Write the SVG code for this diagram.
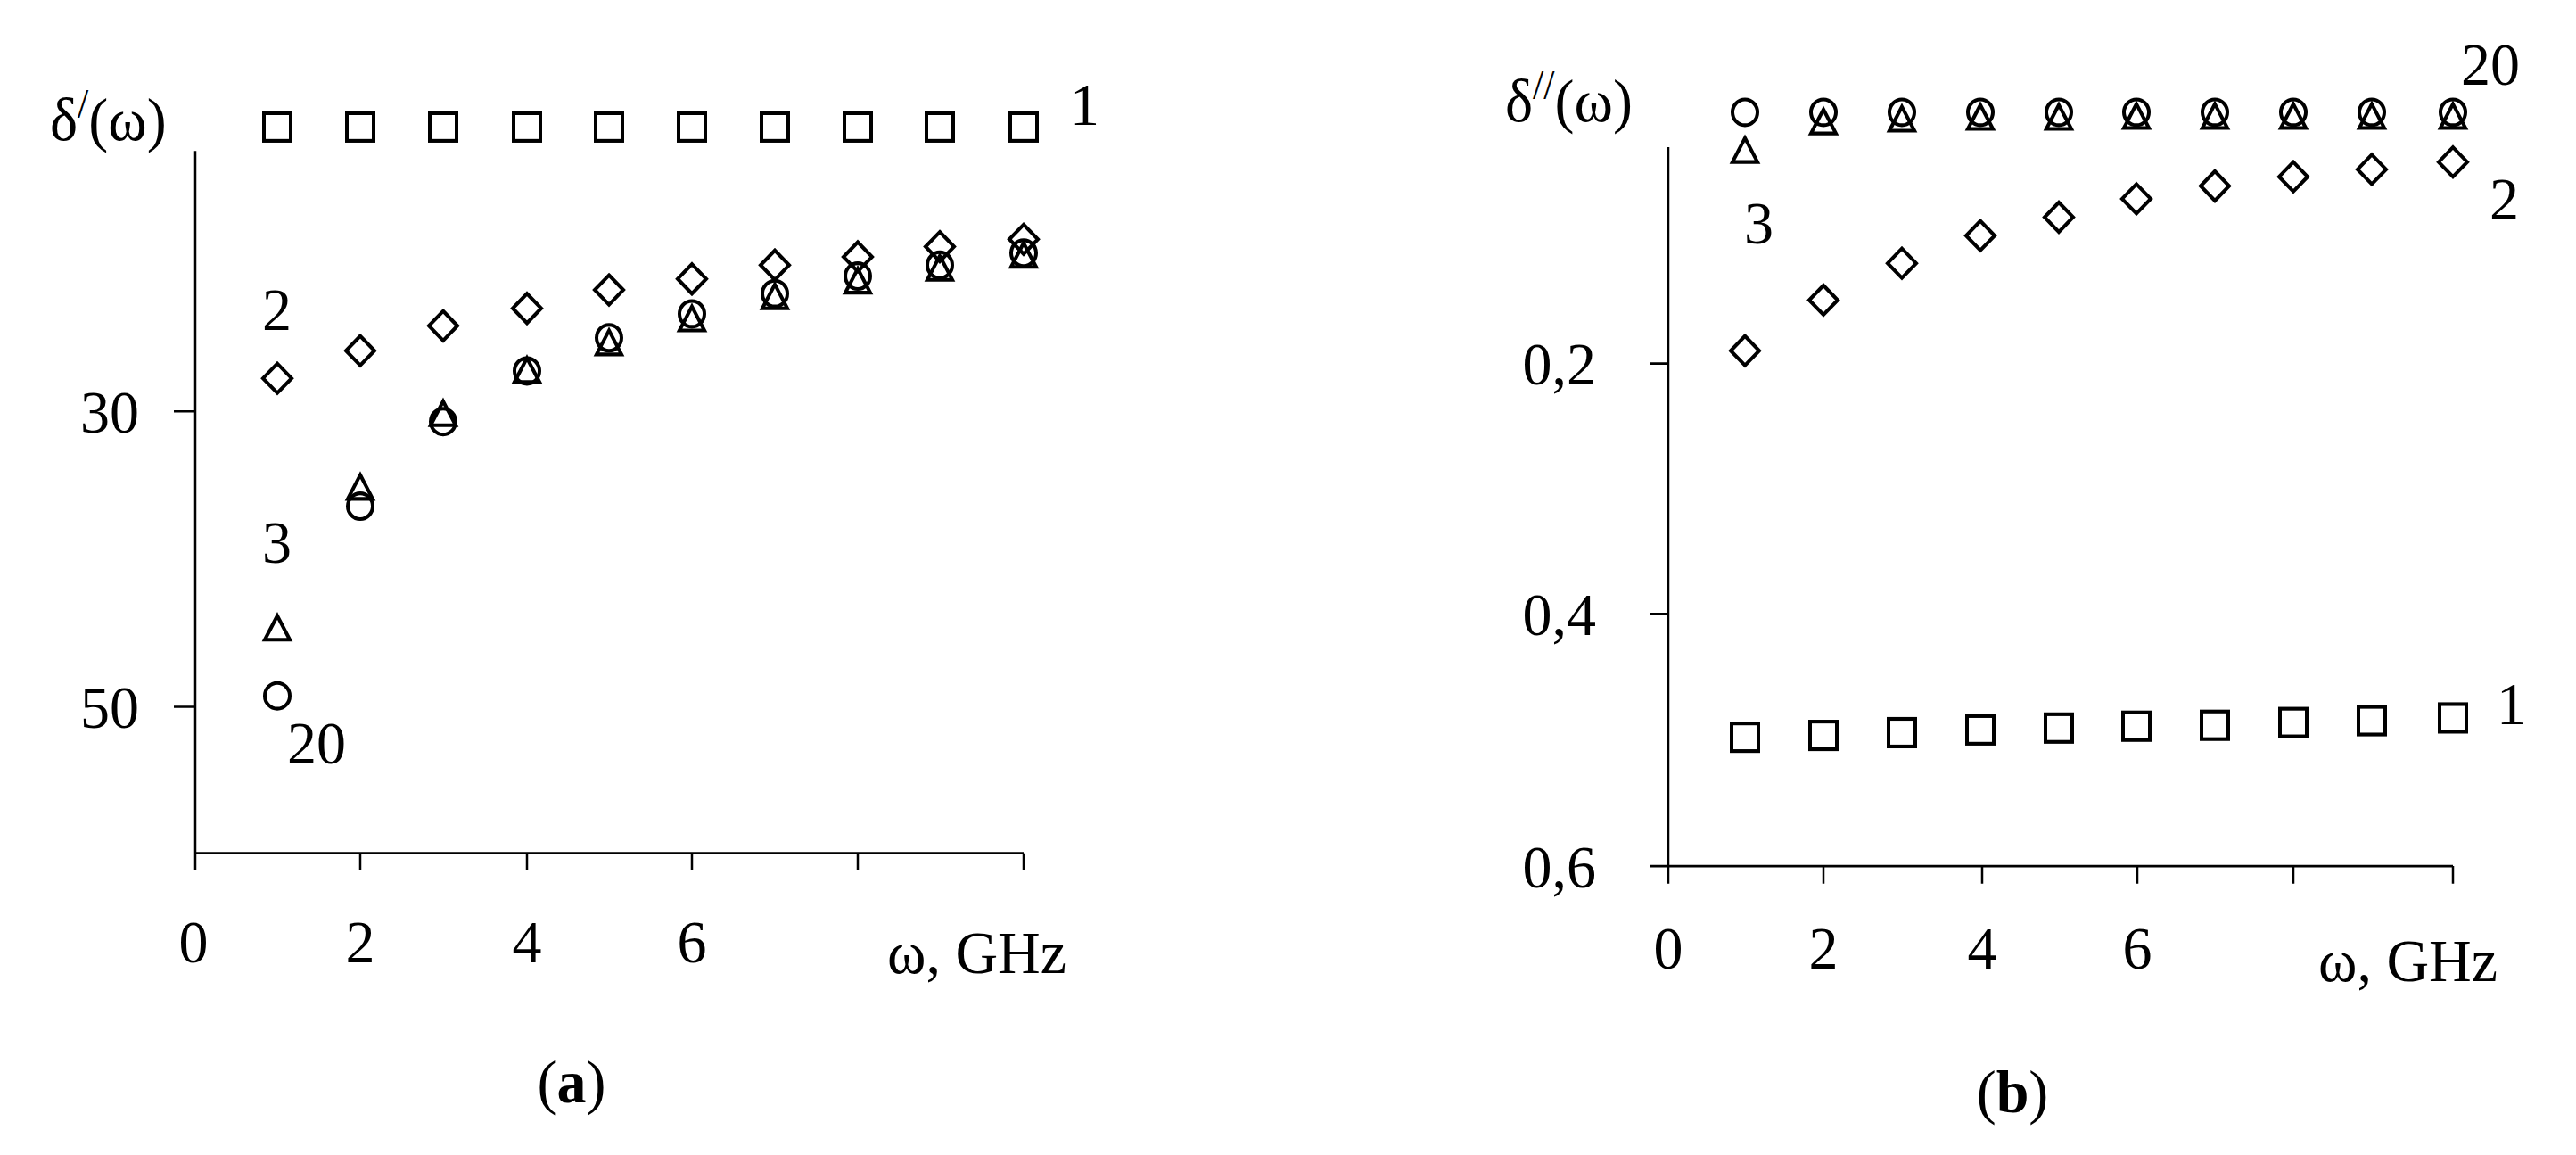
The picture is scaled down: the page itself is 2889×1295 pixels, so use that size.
<svg xmlns="http://www.w3.org/2000/svg" xmlns:xlink="http://www.w3.org/1999/xlink" width="2889" height="1295" viewBox="0 0 2889 1295">
<style>
text{font-family:"Liberation Serif","Times New Roman",serif;font-size:66px;fill:#000}
.ax{stroke:#000;stroke-width:2.5;fill:none}
.m{stroke:#000;stroke-width:4;fill:none}
.cap{font-weight:bold}
</style>
<defs>
<rect id="sq" class="m" x="-15" y="-15" width="30" height="30"/>
<path id="di" class="m" d="M0,-16 L16,0 L0,16 L-16,0 Z"/>
<circle id="ci" class="m" r="14"/>
<path id="tr" class="m" d="M0,-14 L14,12 L-14,12 Z"/>
</defs>
<rect width="2889" height="1295" fill="#fff"/>
<g id="panel-a" transform="matrix(1,0,0,1.032,0,0)">
<g id="axes-a">
<path class="ax" d="M219,164 V927 H1148 M195,447 H219 M195,768 H219 M219,927 V945 M404,927 V945 M591,927 V945 M776,927 V945 M962,927 V945 M1148,927 V945"/>
<text x="56" y="152">δ<tspan font-size="44" dy="-24">/</tspan><tspan dy="24">(ω)</tspan></text>
<text x="156" y="470" text-anchor="end">30</text>
<text x="156" y="791" text-anchor="end">50</text>
<text x="217" y="1046" text-anchor="middle">0</text>
<text x="404" y="1046" text-anchor="middle">2</text>
<text x="591" y="1046" text-anchor="middle">4</text>
<text x="776" y="1046" text-anchor="middle">6</text>
<text x="995" y="1057">ω, GHz</text>
<text x="641" y="1198" text-anchor="middle">(<tspan class="cap">a</tspan>)</text>
</g>
<g id="series-a">
<use href="#sq" x="311" y="138"/><use href="#sq" x="404" y="138"/><use href="#sq" x="497" y="138"/><use href="#sq" x="591" y="138"/><use href="#sq" x="683" y="138"/><use href="#sq" x="776" y="138"/><use href="#sq" x="869" y="138"/><use href="#sq" x="962" y="138"/><use href="#sq" x="1054" y="138"/><use href="#sq" x="1148" y="138"/>
<use href="#di" x="311" y="411"/><use href="#di" x="404" y="381"/><use href="#di" x="497" y="354"/><use href="#di" x="591" y="335"/><use href="#di" x="683" y="315"/><use href="#di" x="776" y="303"/><use href="#di" x="869" y="288"/><use href="#di" x="962" y="279"/><use href="#di" x="1054" y="268"/><use href="#di" x="1148" y="260"/>
<use href="#tr" x="311" y="683"/><use href="#tr" x="404" y="530"/><use href="#tr" x="497" y="450"/><use href="#tr" x="591" y="403"/><use href="#tr" x="683" y="373"/><use href="#tr" x="776" y="347"/><use href="#tr" x="869" y="323"/><use href="#tr" x="962" y="306"/><use href="#tr" x="1054" y="292"/><use href="#tr" x="1148" y="278"/>
<use href="#ci" x="311" y="756"/><use href="#ci" x="404" y="550"/><use href="#ci" x="497" y="458"/><use href="#ci" x="591" y="403"/><use href="#ci" x="683" y="367"/><use href="#ci" x="776" y="341"/><use href="#ci" x="869" y="319"/><use href="#ci" x="962" y="300"/><use href="#ci" x="1054" y="288"/><use href="#ci" x="1148" y="275"/>
<text x="1200" y="136">1</text>
<text x="294" y="359">2</text>
<text x="294" y="611">3</text>
<text x="322" y="829">20</text>
</g>
</g>
<g id="panel-b" transform="matrix(1,0,0,1.032,0,0)">
<g id="axes-b">
<path class="ax" d="M1871,160 V941 H2751 M1850,395 H1871 M1850,667 H1871 M1850,941 H1871 M1871,941 V960 M2045,941 V960 M2223,941 V960 M2397,941 V960 M2572,941 V960 M2751,941 V960"/>
<text x="1688" y="132">δ<tspan font-size="44" dy="-24">//</tspan><tspan dy="24">(ω)</tspan></text>
<text x="1790" y="418" text-anchor="end">0,2</text>
<text x="1790" y="690" text-anchor="end">0,4</text>
<text x="1790" y="964" text-anchor="end">0,6</text>
<text x="1871" y="1052" text-anchor="middle">0</text>
<text x="2045" y="1052" text-anchor="middle">2</text>
<text x="2223" y="1052" text-anchor="middle">4</text>
<text x="2397" y="1052" text-anchor="middle">6</text>
<text x="2600" y="1066">ω, GHz</text>
<text x="2257" y="1208" text-anchor="middle">(<tspan class="cap">b</tspan>)</text>
</g>
<g id="series-b">
<use href="#tr" x="1957" y="164"/><use href="#tr" x="2045" y="133"/><use href="#tr" x="2133" y="130"/><use href="#tr" x="2221" y="128"/><use href="#tr" x="2309" y="128"/><use href="#tr" x="2396" y="127"/><use href="#tr" x="2484" y="127"/><use href="#tr" x="2572" y="127"/><use href="#tr" x="2660" y="127"/><use href="#tr" x="2751" y="127"/>
<use href="#ci" x="1957" y="122"/><use href="#ci" x="2045" y="122"/><use href="#ci" x="2133" y="122"/><use href="#ci" x="2221" y="122"/><use href="#ci" x="2309" y="122"/><use href="#ci" x="2396" y="122"/><use href="#ci" x="2484" y="122"/><use href="#ci" x="2572" y="122"/><use href="#ci" x="2660" y="122"/><use href="#ci" x="2751" y="122"/>
<use href="#di" x="1957" y="381"/><use href="#di" x="2045" y="326"/><use href="#di" x="2133" y="286"/><use href="#di" x="2221" y="256"/><use href="#di" x="2309" y="236"/><use href="#di" x="2396" y="216"/><use href="#di" x="2484" y="202"/><use href="#di" x="2572" y="192"/><use href="#di" x="2660" y="184"/><use href="#di" x="2751" y="176"/>
<use href="#sq" x="1957" y="801"/><use href="#sq" x="2045" y="799"/><use href="#sq" x="2133" y="796"/><use href="#sq" x="2221" y="793"/><use href="#sq" x="2309" y="791"/><use href="#sq" x="2396" y="789"/><use href="#sq" x="2484" y="788"/><use href="#sq" x="2572" y="785"/><use href="#sq" x="2660" y="783"/><use href="#sq" x="2751" y="780"/>
<text x="2760" y="92">20</text>
<text x="2792" y="238">2</text>
<text x="1956" y="265">3</text>
<text x="2800" y="787">1</text>
</g>
</g>
</svg>
